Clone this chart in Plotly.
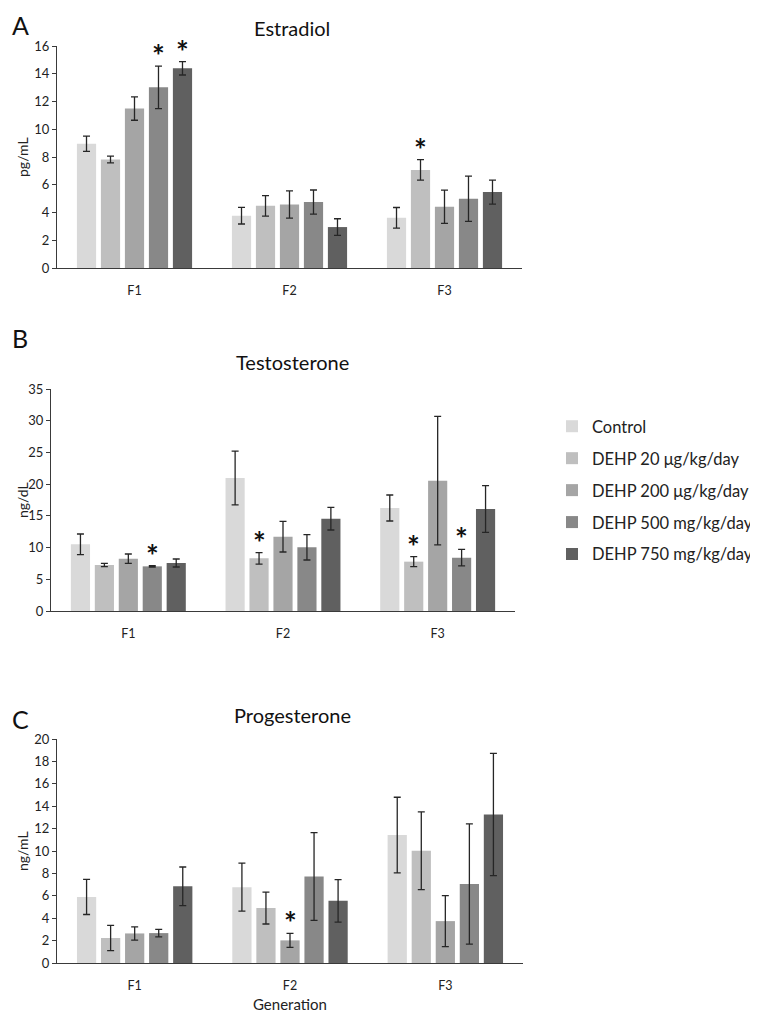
import plotly.graph_objects as go

generations = ["F1", "F2", "F3"]
series_names = ["Control", "DEHP 20 μg/kg/day", "DEHP 200 μg/kg/day",
                "DEHP 500 mg/kg/day", "DEHP 750 mg/kg/day"]
colors = ["#d9d9d9", "#bfbfbf", "#a5a5a5", "#888888", "#606060"]

# Estradiol (pg/mL): values[series][generation]
estradiol = [[8.95, 3.77, 3.62], [7.82, 4.48, 7.07], [11.49, 4.58, 4.41],
             [13.02, 4.75, 4.99], [14.39, 2.95, 5.47]]
estradiol_err = [[0.55, 0.60, 0.74], [0.24, 0.74, 0.74], [0.84, 0.98, 1.20],
                 [1.53, 0.87, 1.63], [0.48, 0.60, 0.86]]
estradiol_sig = [(0, 3), (0, 4), (2, 1)]  # (generation index, series index)

# Testosterone (ng/dL)
testosterone = [[10.51, 20.97, 16.24], [7.25, 8.30, 7.78], [8.25, 11.72, 20.55],
                [7.04, 10.04, 8.41], [7.57, 14.56, 16.08]]
testosterone_err = [[1.63, 4.25, 2.05], [0.26, 0.90, 0.79], [0.74, 2.42, 10.14],
                    [0.10, 2.00, 1.31], [0.63, 1.79, 3.68]]
testosterone_sig = [(0, 3), (1, 1), (2, 1), (2, 3)]

# Progesterone (ng/mL)
progesterone = [[5.90, 6.77, 11.42], [2.23, 4.90, 10.03], [2.64, 2.02, 3.74],
                [2.67, 7.72, 7.06], [6.85, 5.55, 13.26]]
progesterone_err = [[1.57, 2.14, 3.38], [1.13, 1.42, 3.47], [0.59, 0.62, 2.28],
                    [0.33, 3.92, 5.37], [1.72, 1.90, 5.46]]
progesterone_sig = [(1, 2)]

panels = [
    dict(letter="A", title="Estradiol", unit="pg/mL", vals=estradiol, errs=estradiol_err,
         sig=estradiol_sig, rng=[0, 16], dtick=2, xdom=[57, 522], ybot=268, ytop=46),
    dict(letter="B", title="Testosterone", unit="ng/dL", vals=testosterone, errs=testosterone_err,
         sig=testosterone_sig, rng=[0, 35], dtick=5, xdom=[51, 515], ybot=611, ytop=389),
    dict(letter="C", title="Progesterone", unit="ng/mL", vals=progesterone, errs=progesterone_err,
         sig=progesterone_sig, rng=[0, 20], dtick=2, xdom=[57, 523], ybot=963, ytop=739),
]
title_y = [28, 362, 715]
letter_y = [25, 338, 719]

# page offset (default body margin of the html page)
OX, OY = 8, 8
W, H = 750, 1006


def px(x):
    return (x - OX) / W


def py(y):
    return 1 - (y - OY) / H


FONT = "Lato, 'Open Sans', sans-serif"
BARGAP = 0.226
BARGROUPGAP = 0.2
AXIS_COLOR = "#3a3a3a"

fig = go.Figure()
annotations = []
layout_axes = {}

for p, pan in enumerate(panels):
    sfx = "" if p == 0 else str(p + 1)
    xa, ya = "x" + sfx, "y" + sfx
    for s, name in enumerate(series_names):
        fig.add_trace(go.Bar(
            x=generations, y=pan["vals"][s], name=name,
            marker=dict(color=colors[s], line=dict(width=0)),
            error_y=dict(type="data", array=pan["errs"][s], color="#262626",
                         thickness=1.3, width=3.5),
            xaxis=xa, yaxis=ya, showlegend=(p == 1), legendgroup=name,
        ))
    layout_axes["xaxis" + sfx] = dict(
        domain=[px(pan["xdom"][0]), px(pan["xdom"][1])], anchor=ya,
        showline=True, linecolor=AXIS_COLOR, linewidth=1.2,
        ticks="outside", ticklen=11, tickcolor="rgba(0,0,0,0)", automargin=False,
        tickfont=dict(size=12.5, color="#222"), showgrid=False, zeroline=False,
    )
    layout_axes["yaxis" + sfx] = dict(
        domain=[py(pan["ybot"]), py(pan["ytop"])], anchor=xa,
        range=pan["rng"], dtick=pan["dtick"], showline=True, linecolor=AXIS_COLOR,
        linewidth=1.2, ticks="outside", ticklen=4, tickcolor=AXIS_COLOR, automargin=False,
        tickfont=dict(size=13, color="#222"), showgrid=False, zeroline=False,
    )
    # panel letter
    annotations.append(dict(text=pan["letter"], xref="paper", yref="paper",
                            x=px(10), y=py(letter_y[p]),
                            xanchor="left", yanchor="middle", showarrow=False,
                            font=dict(size=25, color="#111", family=FONT)))
    # title
    annotations.append(dict(text=pan["title"], xref="paper", yref="paper",
                            x=px(292), y=py(title_y[p]),
                            xanchor="center", yanchor="middle", showarrow=False,
                            font=dict(size=20, color="#111", family=FONT)))
    # y-axis unit label
    annotations.append(dict(text=pan["unit"], xref="paper", yref="paper",
                            x=px(22), y=py((pan["ybot"] + pan["ytop"]) / 2),
                            xanchor="center", yanchor="middle", textangle=-90,
                            showarrow=False, font=dict(size=14, color="#222", family=FONT)))
    # significance asterisks
    slot = (1 - BARGAP) / len(series_names)
    for g, s in pan["sig"]:
        annotations.append(dict(
            text="<b>*</b>", xref=xa, yref=ya,
            x=g + (s - 2) * slot, y=pan["vals"][s][g] + pan["errs"][s][g],
            xanchor="center", yanchor="bottom", yshift=-9, showarrow=False,
            font=dict(size=30, color="#111", family=FONT)))

annotations.append(dict(text="Generation", xref="paper", yref="paper",
                        x=px(290), y=py(1004), xanchor="center", yanchor="middle",
                        showarrow=False, font=dict(size=15, color="#222", family=FONT)))

fig.update_layout(
    width=W, height=H, margin=dict(l=0, r=0, t=0, b=0, autoexpand=False),
    paper_bgcolor="white", plot_bgcolor="white",
    font=dict(family=FONT, color="#222"),
    barmode="group", bargap=BARGAP, bargroupgap=BARGROUPGAP,
    legend=dict(x=1, y=py(409), xanchor="right", yanchor="top",
                font=dict(size=16.5, color="#222", family=FONT),
                traceorder="grouped", tracegroupgap=7.5, itemwidth=30,
                bgcolor="rgba(0,0,0,0)"),
    annotations=annotations,
    **layout_axes,
)

fig.write_html("out.html")
